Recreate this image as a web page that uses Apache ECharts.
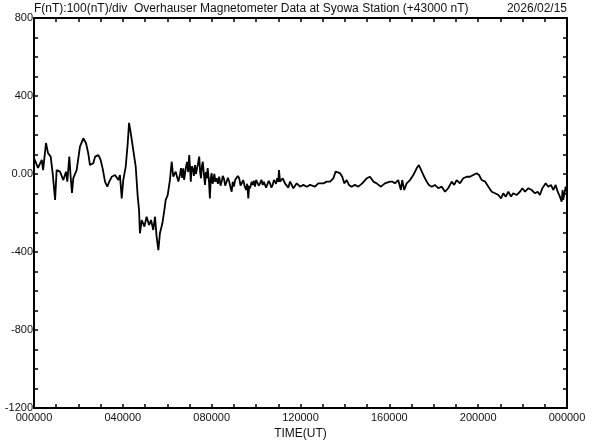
<!DOCTYPE html>
<html>
<head>
<meta charset="utf-8">
<script src="https://cdn.jsdelivr.net/npm/echarts@6/dist/echarts.min.js"></script>
<style>
html,body{margin:0;padding:0;background:#fff;}
#chart{width:592px;height:440px;}
</style>
</head>
<body>
<div id="chart"></div>
<script>
// time in hours UT
const timesH = [0.00,0.18,0.35,0.41,0.54,0.63,0.75,0.84,0.95,1.02,1.17,1.32,1.44,1.50,1.59,1.65,1.71,1.77,1.92,2.07,2.22,2.34,2.44,2.52,2.67,2.75,2.90,3.00,3.09,3.20,3.30,3.39,
3.50,3.65,3.80,3.87,3.95,4.02,4.13,4.22,4.28,4.37,4.47,4.58,4.67,4.73,4.77,4.85,4.97,5.07,5.18,5.27,5.37,5.45,5.52,5.60,5.67,5.78,5.87,5.93,6.02,6.12,6.20,6.27,6.38,6.50,
6.57,6.62,6.67,6.72,6.76,6.80,6.85,6.90,6.94,6.99,7.03,7.06,7.10,7.15,7.20,7.25,7.29,7.33,7.38,7.44,7.48,7.52,7.56,7.60,7.65,7.70,7.74,7.78,7.82,7.85,7.88,7.92,7.96,
8.00,8.04,8.07,8.12,8.17,8.23,8.28,8.34,8.40,8.45,8.50,8.55,8.61,8.68,8.73,8.79,8.85,8.90,8.95,9.00,9.06,9.13,9.18,9.24,9.30,9.35,9.42,9.48,9.55,9.60,9.65,9.69,9.73,9.80,9.85,9.90,9.95,
10.00,10.05,10.12,10.18,10.24,10.30,10.35,10.40,10.45,10.50,10.57,10.63,10.69,10.75,10.80,10.85,10.90,10.95,11.00,11.03,11.08,
11.20,11.30,11.45,11.53,11.68,11.83,11.98,12.13,12.28,12.43,12.65,12.80,13.03,13.18,13.33,13.48,13.58,13.67,13.78,13.88,13.97,
14.08,14.18,14.30,14.45,14.60,14.78,14.98,15.13,15.28,15.43,15.62,15.80,16.03,16.13,16.25,16.40,16.52,16.58,16.67,16.78,16.93,17.08,17.23,17.33,17.42,17.53,17.68,17.78,17.91,
18.05,18.20,18.36,18.51,18.65,18.81,18.92,19.03,19.18,19.33,19.48,19.63,19.78,19.93,20.04,20.16,20.31,20.46,20.61,20.76,20.91,21.03,21.13,21.24,21.36,21.48,21.58,21.73,21.88,21.99,
22.11,22.26,22.41,22.56,22.68,22.78,22.89,23.04,23.16,23.28,23.38,23.49,23.58,23.68,23.76,23.80,23.83,23.94,24.00];
// F deviation from 43000 nT
const fValues = [82,31,72,20,159,108,89,5,-133,20,12,-31,12,-39,89,-14,-97,-21,20,140,183,159,108,46,55,89,97,72,29,-40,-65,-39,
-14,-5,-31,-5,-125,-31,38,157,262,200,123,38,-116,-185,-304,-236,-270,-219,-262,-236,-287,-219,-321,-390,-304,-253,-185,-133,-108,-31,63,-14,12,-39,
-5,30,-20,29,-30,-22,40,63,10,97,20,-39,40,29,-10,46,0,-5,50,89,10,-22,40,63,0,-56,10,-22,30,29,-40,-125,-20,
4,-50,-39,0,-40,-22,-50,-14,-60,-39,-10,-22,-60,-56,-20,-39,-70,-91,-40,-65,-30,-39,-10,-22,-60,-56,-31,-60,-82,-50,-125,-60,-73,-40,-56,-35,-65,
-30,-39,-60,-48,-30,-56,-40,-39,-70,-65,-35,-48,-70,-56,-30,-31,-50,-22,-40,20,-39,
-22,-48,-70,-39,-73,-48,-65,-56,-65,-56,-65,-48,-48,-39,-39,-22,12,20,4,-14,-48,
-31,-56,-65,-56,-65,-48,-22,-14,-39,-48,-65,-48,-39,-39,-48,-31,-82,-31,-82,-48,-31,-5,29,46,38,-5,-39,-56,-65,
-56,-73,-65,-91,-73,-39,-56,-31,-48,-22,-14,-14,-5,4,-5,-31,-39,-65,-91,-99,-108,-125,-99,-116,-91,-116,-99,-108,-91,-73,
-91,-73,-82,-99,-91,-108,-73,-48,-65,-56,-82,-56,-91,-116,-142,-82,-133,-65,-91];
const xTickLabels = ['000000','040000','080000','120000','160000','200000','000000'];
const yTickLabels = {'800':'800','400':'400','0':'0.00','-400':'-400','-800':'-800','-1200':'-1200'};
const titleText = 'F(nT):100(nT)/div  Overhauser Magnetometer Data at Syowa Station (+43000 nT)';
const dateText = '2026/02/15';

const FONT = '"Liberation Sans", Arial, sans-serif';
const seriesData = timesH.map((t, i) => [t, fValues[i]]);
const lineAx = {show: true, onZero: false, lineStyle: {color: '#000', width: 2}};
const tickAx = {show: true, inside: true, length: 4, lineStyle: {color: '#000', width: 1.5}};

const chart = echarts.init(document.getElementById('chart'), null, {renderer: 'canvas'});
chart.setOption({
  animation: false,
  backgroundColor: '#fff',
  title: [
    {text: titleText, left: 34, top: 3, padding: 0, textStyle: {fontFamily: FONT, fontSize: 12, fontWeight: 'normal', color: '#111'}},
    {text: dateText, right: 25, top: 3, padding: 0, textStyle: {fontFamily: FONT, fontSize: 12, fontWeight: 'normal', color: '#111'}}
  ],
  grid: {left: 34, right: 25, top: 18, bottom: 32, containLabel: false, outerBoundsMode: 'none'},
  xAxis: [
    {type: 'value', position: 'bottom', min: 0, max: 24, interval: 1,
     axisLine: lineAx, axisTick: tickAx, splitLine: {show: false},
     axisLabel: {show: true, margin: 4, fontFamily: FONT, fontSize: 11, color: '#111', showMinLabel: true, showMaxLabel: true,
       formatter: v => (v % 4 === 0 ? xTickLabels[v / 4] : '')},
     name: 'TIME(UT)', nameLocation: 'middle', nameGap: 18,
     nameTextStyle: {fontFamily: FONT, fontSize: 12, color: '#111'}},
    {type: 'value', position: 'top', min: 0, max: 24, interval: 1,
     axisLine: lineAx, axisTick: tickAx, splitLine: {show: false}, axisLabel: {show: false}}
  ],
  yAxis: [
    {type: 'value', position: 'left', min: -1200, max: 800, interval: 100,
     axisLine: lineAx, axisTick: tickAx, splitLine: {show: false},
     axisLabel: {show: true, margin: 1, fontFamily: FONT, fontSize: 11, color: '#111', showMinLabel: true, showMaxLabel: true,
       formatter: v => (yTickLabels[String(v)] || '')}},
    {type: 'value', position: 'right', min: -1200, max: 800, interval: 100,
     axisLine: lineAx, axisTick: tickAx, splitLine: {show: false}, axisLabel: {show: false}}
  ],
  series: [{
    type: 'line', data: seriesData, xAxisIndex: 0, yAxisIndex: 0,
    showSymbol: false, symbol: 'none',
    lineStyle: {color: '#000', width: 1.8}
  }]
});
</script>
</body>
</html>
